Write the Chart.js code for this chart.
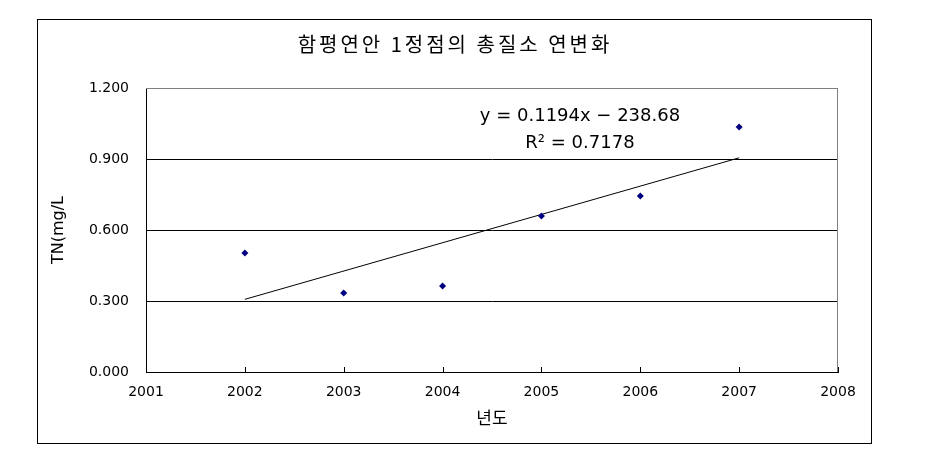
<!DOCTYPE html>
<html>
<head>
<meta charset="utf-8">
<script src="https://cdn.jsdelivr.net/npm/chart.js@4"></script>
<style>
  html, body { margin: 0; padding: 0; background: #fff; }
  #frame {
    position: absolute; left: 37px; top: 19px;
    width: 833px; height: 423px;
    border: 1px solid #000;
  }
  canvas { display: block; }
</style>
</head>
<body>
<div id="frame"><canvas id="c" width="833" height="423"></canvas></div>
<script>
// values
const years = [2002, 2003, 2004, 2005, 2006, 2007];
const tnValues = [0.503, 0.334, 0.363, 0.659, 0.744, 1.035];
// linear trendline as drawn (end points)
const trendYears = [2002, 2007];
const trendValues = [0.307, 0.905];
const titleText = '함평연안 1정점의 총질소 연변화';
const eqLines = ['y = 0.1194x − 238.68', 'R² = 0.7178'];

const KR = '"Noto Sans CJK KR", "DejaVu Sans", sans-serif';
const NUM = '"DejaVu Sans", sans-serif';

// title, equation text, plot border and inside x ticks
const decorations = {
  id: 'decorations',
  afterDraw(chart) {
    const { ctx, chartArea: a, scales: { x, y } } = chart;
    ctx.save();
    // gray plot border (top + right)
    ctx.strokeStyle = '#808080';
    ctx.lineWidth = 1;
    ctx.beginPath();
    ctx.moveTo(a.left, a.top + 0.5);
    ctx.lineTo(a.right - 0.5, a.top + 0.5);
    ctx.lineTo(a.right - 0.5, a.bottom);
    ctx.stroke();
    // inside tick marks on x axis
    ctx.strokeStyle = '#000';
    ctx.beginPath();
    for (let v = 2002; v <= 2008; v++) {
      const px = Math.round(x.getPixelForValue(v)) + 0.5;
      ctx.moveTo(px, a.bottom);
      ctx.lineTo(px, a.bottom - 5);
    }
    ctx.stroke();
    // title (wide-spaced like the original Gulim rendering)
    ctx.fillStyle = '#000';
    ctx.textAlign = 'center';
    ctx.textBaseline = 'middle';
    ctx.font = '20px ' + KR;
    ctx.letterSpacing = '3px';
    ctx.fillText(titleText, 417, 24);
    ctx.letterSpacing = '0px';
    // trendline equation
    ctx.font = '18px ' + NUM;
    const ex = x.getPixelForValue(2005.39);
    ctx.fillText(eqLines[0], ex, y.getPixelForValue(1.079));
    ctx.fillText(eqLines[1], ex, y.getPixelForValue(0.968));
    ctx.restore();
  }
};

new Chart(document.getElementById('c'), {
  type: 'scatter',
  data: {
    datasets: [
      {
        label: 'TN',
        data: years.map((yr, i) => ({ x: yr, y: tnValues[i] })),
        pointStyle: 'rectRot',
        pointRadius: 3.5,
        backgroundColor: '#000080',
        borderColor: '#000080',
        borderWidth: 0
      },
      {
        label: 'trend',
        type: 'line',
        data: trendYears.map((yr, i) => ({ x: yr, y: trendValues[i] })),
        borderColor: '#000',
        borderWidth: 1,
        pointRadius: 0,
        fill: false
      }
    ]
  },
  options: {
    responsive: false,
    animation: false,
    layout: { padding: { top: 68, right: 33, left: 0, bottom: 0 } },
    plugins: {
      legend: { display: false },
      tooltip: { enabled: false }
    },
    scales: {
      x: {
        type: 'linear',
        min: 2001, max: 2008,
        ticks: {
          stepSize: 1,
          callback: v => String(v),
          color: '#000',
          font: { family: NUM, size: 14 },
          padding: 12
        },
        grid: { display: false, drawTicks: false },
        border: { color: '#000', width: 1 },
        title: {
          display: true, text: '년도', color: '#000',
          font: { family: KR, size: 17 },
          padding: { top: 0, bottom: 15 }
        },
        afterFit: s => { s.height = 71; }
      },
      y: {
        min: 0, max: 1.2,
        ticks: {
          stepSize: 0.3,
          callback: v => v.toFixed(3),
          color: '#000',
          font: { family: NUM, size: 14 },
          padding: 17
        },
        grid: {
          drawTicks: false,
          color: c => (c.tick && c.tick.value >= 1.2 ? '#808080' : '#000')
        },
        border: { color: '#000', width: 1 },
        title: {
          display: true, text: 'TN(mg/L', color: '#000',
          font: { family: NUM, size: 16 },
          padding: { top: 11, bottom: 0 }
        },
        afterFit: s => { s.width = 108; }
      }
    }
  },
  plugins: [decorations]
});
</script>
</body>
</html>
